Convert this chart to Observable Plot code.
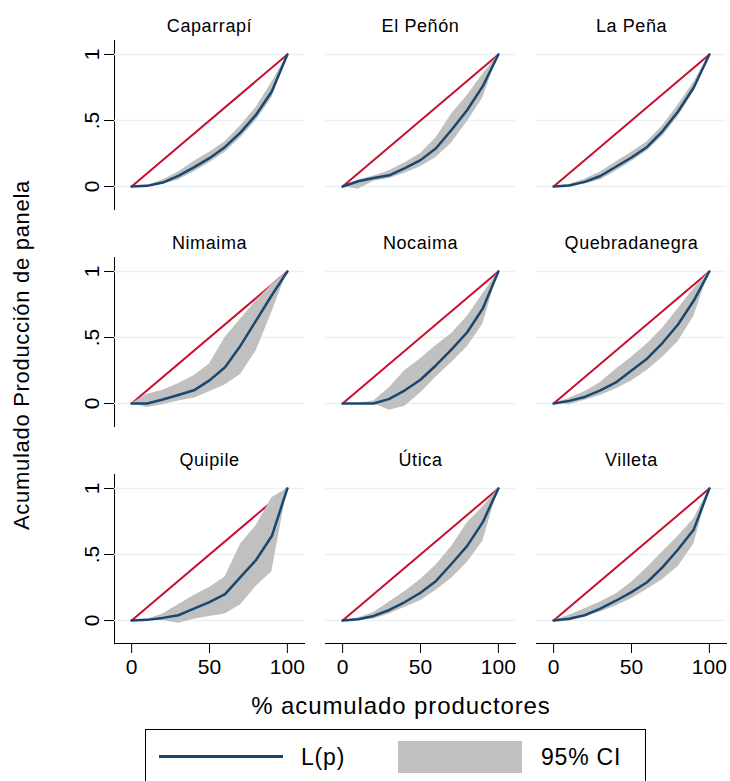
<!DOCTYPE html>
<html>
<head>
<meta charset="utf-8">
<script src="https://cdn.jsdelivr.net/npm/d3@7"></script>
<script src="https://cdn.jsdelivr.net/npm/@observablehq/plot@0.6"></script>
<style>
  html, body { margin: 0; padding: 0; background: #fff; }
  #wrap { position: relative; width: 730px; height: 781px; overflow: hidden; font-family: "Liberation Sans", Arial, sans-serif; color: #000; }
  .abs { position: absolute; white-space: nowrap; }
</style>
</head>
<body>
<div id="wrap"></div>
<script>
// ---- data ----
const municipios = ["Caparrapí", "El Peñón", "La Peña", "Nimaima", "Nocaima", "Quebradanegra", "Quipile", "Útica", "Villeta"];
const pct = [0, 10, 20, 30, 40, 50, 60, 70, 80, 90, 100];
const curveL = [
  [0, .005, .03, .08, .145, .215, .30, .41, .545, .72, 1],
  [0, .04, .065, .085, .14, .20, .29, .43, .58, .76, 1],
  [0, .008, .035, .08, .15, .22, .30, .42, .57, .75, 1],
  [0, 0, .03, .065, .10, .175, .275, .44, .63, .82, 1],
  [0, 0, 0, .035, .10, .18, .29, .41, .54, .72, 1],
  [0, .02, .05, .10, .16, .25, .34, .46, .60, .78, 1],
  [0, .005, .02, .04, .09, .14, .20, .33, .46, .64, 1],
  [0, .01, .035, .08, .14, .21, .30, .43, .565, .745, 1],
  [0, .013, .04, .09, .15, .215, .29, .405, .54, .69, 1]
];
const curveLo = [
  [0, 0, .015, .05, .11, .18, .26, .37, .50, .67, 1],
  [0, -.02, .04, .06, .10, .15, .22, .33, .49, .67, 1],
  [0, .003, .02, .05, .115, .19, .27, .38, .53, .72, 1],
  [0, -.03, -.01, .02, .04, .09, .14, .22, .40, .69, 1],
  [0, 0, 0, -.05, -.02, .08, .20, .31, .43, .60, 1],
  [0, -.01, .025, .06, .11, .17, .25, .35, .47, .66, 1],
  [0, 0, 0, -.02, .01, .03, .05, .12, .26, .37, 1],
  [0, 0, .012, .05, .10, .15, .23, .32, .44, .60, 1],
  [0, -.005, .03, .065, .11, .165, .235, .31, .41, .58, 1]
];
const curveHi = [
  [0, .01, .05, .11, .19, .26, .34, .46, .60, .79, 1],
  [0, .05, .08, .12, .18, .25, .37, .55, .69, .85, 1],
  [0, .015, .055, .11, .185, .26, .34, .46, .62, .79, 1],
  [0, .07, .10, .15, .21, .30, .50, .64, .78, .90, 1],
  [0, 0, .02, .12, .25, .34, .44, .53, .66, .83, 1],
  [0, .04, .09, .16, .26, .35, .45, .57, .72, .87, 1],
  [0, .01, .05, .12, .19, .25, .33, .58, .72, .93, 1],
  [0, .02, .06, .14, .22, .31, .42, .56, .74, .86, 1],
  [0, .04, .09, .14, .20, .29, .40, .52, .64, .77, 1]
];
const equalityX = [0, 100];
const equalityY = [0, 1];
const yTicks = [0, .5, 1];
const yTickLabels = ["0", ".5", "1"];
const xTicks = [0, 50, 100];

// ---- tables built from arrays ----
const rows = municipios.flatMap((m, i) => pct.map((p, j) => ({
  m, col: i % 3, row: Math.floor(i / 3), p, L: curveL[i][j], lo: curveLo[i][j], hi: curveHi[i][j]
})));
const eq = municipios.flatMap((m, i) => equalityX.map((p, j) => ({m, col: i % 3, row: Math.floor(i / 3), p, s: equalityY[j]})));
const titles = municipios.map((m, i) => ({m, col: i % 3, row: Math.floor(i / 3)}));
const gridRows = titles.flatMap(d => yTicks.map(t => ({...d, t})));

const navy = "#1a476f", red = "#c8102e", band = "#c0c0c0", grid = "#eaf2f3";

const chart = Plot.plot({
  width: 730,
  height: 720,
  marginLeft: 114,
  marginRight: 4,
  marginTop: 40,
  marginBottom: 77,
  style: {fontFamily: "'Liberation Sans', Arial, sans-serif", fontSize: "21px", color: "#000", background: "#fff", overflow: "visible"},
  fx: {domain: [0, 1, 2], paddingInner: 21 / 211, paddingOuter: 0, axis: null, round: false},
  fy: {domain: [0, 1, 2], paddingInner: 48 / 217, paddingOuter: 0, axis: null, round: false},
  x: {domain: [-11, 111], ticks: xTicks, tickSize: 10, tickPadding: 6, line: true, label: null},
  y: {domain: [-0.174, 1.106], ticks: yTicks, tickFormat: d => yTickLabels[yTicks.indexOf(d)], tickRotate: -90, tickSize: 10, tickPadding: 6, line: true, label: null},
  marks: [
    Plot.ruleY(gridRows, {y: "t", fx: "col", fy: "row", stroke: grid, strokeWidth: 1.5}),
    Plot.line(eq, {x: "p", y: "s", z: "m", fx: "col", fy: "row", stroke: red, strokeWidth: 2}),
    Plot.areaY(rows, {x: "p", y1: "lo", y2: "hi", z: "m", fx: "col", fy: "row", fill: band, fillOpacity: 1}),
    Plot.line(rows, {x: "p", y: "L", z: "m", fx: "col", fy: "row", stroke: navy, strokeWidth: 2.5}),
    Plot.text(titles, {fx: "col", fy: "row", text: "m", frameAnchor: "top", dy: -21, fontSize: 18, fill: "#000", style: "letter-spacing:0.6px"})
  ]
});

chart.querySelectorAll("text").forEach(t => {
  if (municipios.includes(t.textContent)) t.setAttribute("letter-spacing", "0.6");
});

const wrap = document.getElementById("wrap");
chart.style.position = "absolute";
chart.style.left = "0px";
chart.style.top = "0px";
wrap.appendChild(chart);

// axis titles
const yt = document.createElement("div");
yt.className = "abs";
yt.textContent = "Acumulado Producción de panela";
yt.style.fontSize = "22px";
yt.style.letterSpacing = "0.7px";
yt.style.left = "22px";
yt.style.top = "355px";
yt.style.transform = "translate(-50%, -50%) rotate(-90deg)";
wrap.appendChild(yt);

const xt = document.createElement("div");
xt.className = "abs";
xt.textContent = "% acumulado productores";
xt.style.fontSize = "24px";
xt.style.letterSpacing = "0.9px";
xt.style.left = "401px";
xt.style.top = "706px";
xt.style.transform = "translate(-50%, -50%)";
wrap.appendChild(xt);

// legend
const lg = document.createElement("div");
lg.className = "abs";
Object.assign(lg.style, {left: "145px", top: "729px", width: "501px", height: "80px", border: "1px solid #000", boxSizing: "border-box", background: "#fff"});
wrap.appendChild(lg);
const ln = document.createElement("div");
ln.className = "abs";
Object.assign(ln.style, {left: "159px", top: "755px", width: "124px", height: "3px", background: navy});
wrap.appendChild(ln);
const lt = document.createElement("div");
lt.className = "abs";
lt.textContent = "L(p)";
Object.assign(lt.style, {left: "301px", top: "757px", fontSize: "23px", letterSpacing: "0.8px", transform: "translateY(-50%)"});
wrap.appendChild(lt);
const rect = document.createElement("div");
rect.className = "abs";
Object.assign(rect.style, {left: "398px", top: "741px", width: "124px", height: "32px", background: band});
wrap.appendChild(rect);
const ct = document.createElement("div");
ct.className = "abs";
ct.textContent = "95% CI";
Object.assign(ct.style, {left: "541px", top: "757px", fontSize: "23px", letterSpacing: "0.8px", transform: "translateY(-50%)"});
wrap.appendChild(ct);
</script>
</body>
</html>
